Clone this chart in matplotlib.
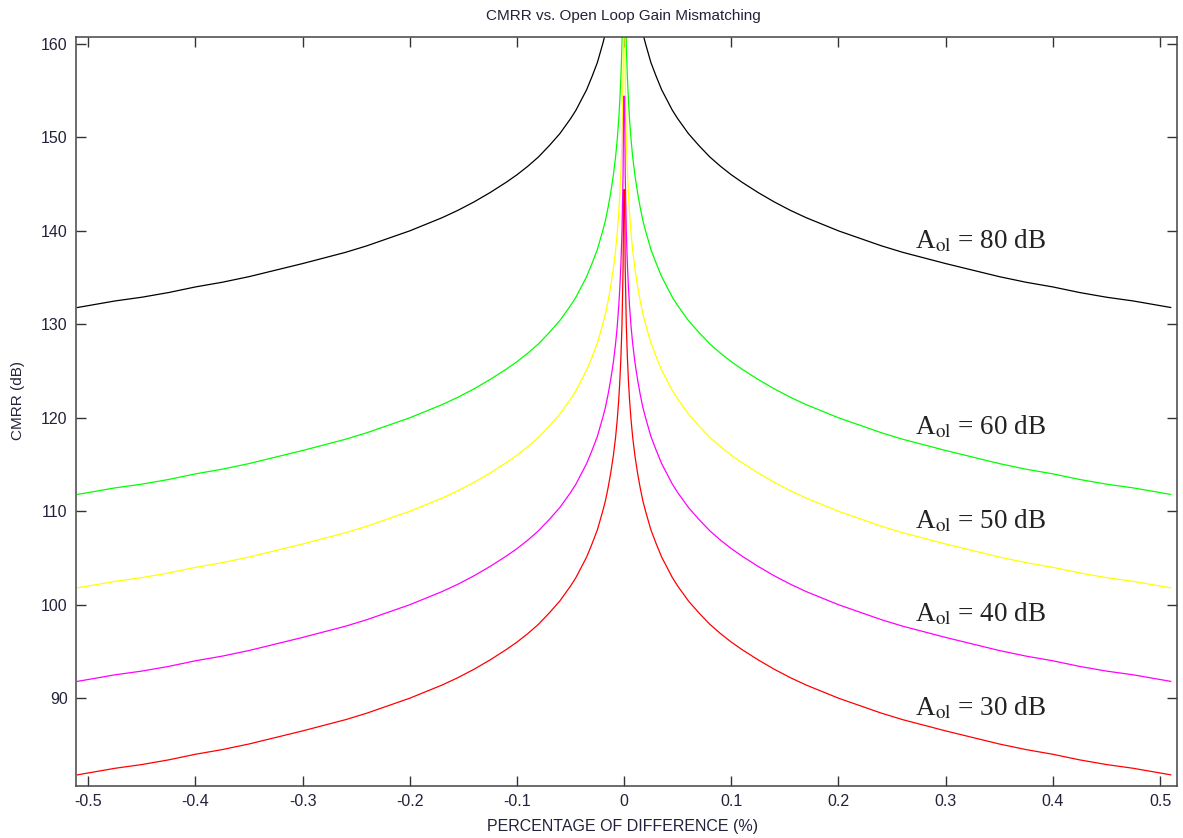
import matplotlib
matplotlib.use("Agg")
import matplotlib.pyplot as plt
import numpy as np

# mismatch (%) on the right half; the curves are mirrored about 0
x_half = [0.0004, 0.001, 0.002, 0.003, 0.004, 0.005, 0.0065, 0.008, 0.01, 0.0125,
          0.015, 0.0175, 0.02, 0.025, 0.03, 0.035, 0.04, 0.045, 0.05, 0.06,
          0.07, 0.08, 0.09, 0.1, 0.11, 0.125, 0.14, 0.155, 0.17, 0.185,
          0.2, 0.22, 0.24, 0.26, 0.28, 0.3, 0.325, 0.35, 0.375, 0.4,
          0.425, 0.45, 0.475, 0.5, 0.51]

# CMRR (dB) at those points
cmrr_80 = [194.4, 186.0, 180.0, 176.5, 174.0, 172.0, 169.7, 167.9, 166.0, 164.1,
           162.5, 161.1, 160.0, 158.0, 156.5, 155.1, 154.0, 152.9, 152.0, 150.4,
           149.1, 147.9, 146.9, 146.0, 145.2, 144.1, 143.1, 142.2, 141.4, 140.7,
           140.0, 139.2, 138.4, 137.7, 137.1, 136.5, 135.8, 135.1, 134.5, 134.0,
           133.4, 132.9, 132.5, 132.0, 131.8]
cmrr_60 = [174.4, 166.0, 160.0, 156.5, 154.0, 152.0, 149.7, 147.9, 146.0, 144.1,
           142.5, 141.1, 140.0, 138.0, 136.5, 135.1, 134.0, 132.9, 132.0, 130.4,
           129.1, 127.9, 126.9, 126.0, 125.2, 124.1, 123.1, 122.2, 121.4, 120.7,
           120.0, 119.2, 118.4, 117.7, 117.1, 116.5, 115.8, 115.1, 114.5, 114.0,
           113.4, 112.9, 112.5, 112.0, 111.8]
cmrr_50 = [164.4, 156.0, 150.0, 146.5, 144.0, 142.0, 139.7, 137.9, 136.0, 134.1,
           132.5, 131.1, 130.0, 128.0, 126.5, 125.1, 124.0, 122.9, 122.0, 120.4,
           119.1, 117.9, 116.9, 116.0, 115.2, 114.1, 113.1, 112.2, 111.4, 110.7,
           110.0, 109.2, 108.4, 107.7, 107.1, 106.5, 105.8, 105.1, 104.5, 104.0,
           103.4, 102.9, 102.5, 102.0, 101.8]
cmrr_40 = [154.4, 146.0, 140.0, 136.5, 134.0, 132.0, 129.7, 127.9, 126.0, 124.1,
           122.5, 121.1, 120.0, 118.0, 116.5, 115.1, 114.0, 112.9, 112.0, 110.4,
           109.1, 107.9, 106.9, 106.0, 105.2, 104.1, 103.1, 102.2, 101.4, 100.7,
           100.0, 99.2, 98.4, 97.7, 97.1, 96.5, 95.8, 95.1, 94.5, 94.0,
           93.4, 92.9, 92.5, 92.0, 91.8]
cmrr_30 = [144.4, 136.0, 130.0, 126.5, 124.0, 122.0, 119.7, 117.9, 116.0, 114.1,
           112.5, 111.1, 110.0, 108.0, 106.5, 105.1, 104.0, 102.9, 102.0, 100.4,
           99.1, 97.9, 96.9, 96.0, 95.2, 94.1, 93.1, 92.2, 91.4, 90.7,
           90.0, 89.2, 88.4, 87.7, 87.1, 86.5, 85.8, 85.1, 84.5, 84.0,
           83.4, 82.9, 82.5, 82.0, 81.8]

gains = [80, 60, 50, 40, 30]
colors = ['#000000', '#00ff00', '#ffff00', '#ff00ff', '#ff0000']
label_y = [138.1, 118.2, 108.2, 98.2, 88.2]

xticks = [-0.5, -0.4, -0.3, -0.2, -0.1, 0, 0.1, 0.2, 0.3, 0.4, 0.5]
xtick_labels = ['-0.5', '-0.4', '-0.3', '-0.2', '-0.1', '0', '0.1', '0.2', '0.3', '0.4', '0.5']
yticks = [90, 100, 110, 120, 130, 140, 150, 160]

plt.rcParams['font.family'] = ['Liberation Sans', 'DejaVu Sans']
plt.rcParams['mathtext.fontset'] = 'stix'

fig = plt.figure(figsize=(11.83, 8.38), dpi=100)
ax = fig.add_axes([0.0642, 0.062, 0.9304, 0.8934])

xs = np.array(x_half)
for ys, c in zip([cmrr_80, cmrr_60, cmrr_50, cmrr_40, cmrr_30], colors):
    ys = np.array(ys)
    x_full = np.concatenate([-xs[::-1], xs])
    y_full = np.concatenate([ys[::-1], ys])
    ax.plot(x_full, y_full, color=c, lw=0.9)

for g, yl in zip(gains, label_y):
    ax.text(0.271, yl, r'A$_{\mathrm{ol}}$ = %d dB' % g, family='Liberation Serif',
            fontsize=19.5, color='#222222', va='baseline', ha='left')

ax.set_xlim(-0.5115, 0.5155)
ax.set_ylim(80.6, 160.7)
ax.set_xticks(xticks)
ax.set_xticklabels(xtick_labels)
ax.set_yticks(yticks)
ax.tick_params(direction='in', length=7, width=1, top=True, right=True,
               labelsize=11.5, labelcolor='#22223a', color='#333333', pad=6)
for s in ax.spines.values():
    s.set_color('#444444')
    s.set_linewidth(1.1)

fig.text(623 / 1183, 1 - 16 / 838, 'CMRR vs. Open Loop Gain Mismatching',
         ha='center', va='center', fontsize=11, color='#22223a')
fig.text(623 / 1183, 1 - 826 / 838, 'PERCENTAGE OF DIFFERENCE (%)',
         ha='center', va='center', fontsize=11.5, color='#22223a')
fig.text(18 / 1183, 1 - 400 / 838, 'CMRR (dB)', rotation=90,
         ha='center', va='center', fontsize=11, color='#22223a')

fig.savefig('out.png', dpi=100)
